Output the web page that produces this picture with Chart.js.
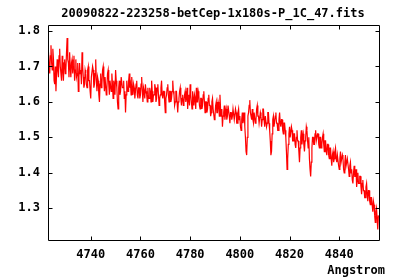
<!DOCTYPE html>
<html>
<head>
<meta charset="utf-8">
<script src="https://cdn.jsdelivr.net/npm/chart.js@4"></script>
<style>
html,body{margin:0;padding:0;background:#fff;}
#wrap{width:400px;height:280px;}
</style>
</head>
<body>
<div id="wrap"><canvas id="c" width="400" height="280"></canvas></div>
<script>
const chartTitle = "20090822-223258-betCep-1x180s-P_1C_47.fits";
const xAxisLabel = "Angstrom";
const waveStart = 4723.0;   // first wavelength (Angstrom)
const waveStep = 0.25;      // dispersion (Angstrom per sample)
const flux = [
  1.74,1.70,1.68,1.73,1.76,1.71,1.69,1.75,1.72,1.66,1.65,1.70,1.63,1.68,1.72,1.69,1.67,1.73,1.75,1.70,
  1.70,1.66,1.73,1.69,1.66,1.71,1.72,1.68,1.69,1.74,1.78,1.72,1.71,1.67,1.74,1.70,1.67,1.71,1.72,1.68,
  1.70,1.73,1.66,1.69,1.72,1.67,1.68,1.71,1.63,1.67,1.71,1.68,1.69,1.65,1.74,1.70,1.67,1.64,1.65,1.69,
  1.68,1.65,1.64,1.69,1.70,1.66,1.66,1.63,1.61,1.67,1.67,1.70,1.69,1.64,1.65,1.68,1.72,1.66,1.63,1.67,
  1.66,1.62,1.60,1.65,1.68,1.64,1.65,1.69,1.70,1.66,1.63,1.67,1.67,1.62,1.64,1.68,1.69,1.65,1.62,1.66,
  1.66,1.63,1.68,1.65,1.61,1.66,1.65,1.62,1.69,1.66,1.64,1.60,1.58,1.64,1.66,1.62,1.63,1.67,1.67,1.64,
  1.64,1.66,1.61,1.63,1.57,1.62,1.66,1.64,1.63,1.66,1.68,1.64,1.65,1.62,1.67,1.64,1.62,1.65,1.64,1.61,
  1.63,1.65,1.66,1.62,1.61,1.64,1.64,1.61,1.62,1.65,1.67,1.63,1.60,1.64,1.63,1.61,1.65,1.63,1.62,1.60,
  1.64,1.61,1.61,1.64,1.63,1.60,1.66,1.63,1.60,1.62,1.62,1.65,1.64,1.60,1.61,1.64,1.65,1.62,1.59,1.61,
  1.62,1.64,1.66,1.62,1.61,1.63,1.63,1.60,1.57,1.61,1.62,1.64,1.65,1.62,1.60,1.63,1.63,1.60,1.61,1.63,
  1.66,1.63,1.62,1.59,1.60,1.63,1.63,1.60,1.57,1.60,1.61,1.63,1.64,1.61,1.59,1.61,1.62,1.59,1.60,1.62,
  1.63,1.60,1.61,1.64,1.58,1.61,1.62,1.59,1.65,1.62,1.60,1.58,1.63,1.61,1.59,1.62,1.61,1.58,1.64,1.60,
  1.60,1.63,1.62,1.59,1.58,1.61,1.61,1.58,1.59,1.62,1.63,1.60,1.57,1.60,1.60,1.57,1.58,1.61,1.62,1.59,
  1.59,1.56,1.57,1.60,1.61,1.58,1.58,1.55,1.56,1.59,1.60,1.57,1.57,1.60,1.59,1.56,1.62,1.58,1.56,1.58,
  1.53,1.56,1.57,1.59,1.55,1.57,1.58,1.55,1.56,1.59,1.59,1.56,1.54,1.57,1.57,1.55,1.56,1.58,1.58,1.55,
  1.55,1.58,1.57,1.54,1.54,1.57,1.58,1.55,1.56,1.53,1.52,1.55,1.57,1.54,1.55,1.57,1.53,1.50,1.46,1.45,
  1.50,1.56,1.57,1.59,1.605,1.57,1.56,1.55,1.58,1.55,1.54,1.57,1.57,1.54,1.55,1.58,1.59,1.56,1.56,1.54,
  1.54,1.57,1.56,1.53,1.55,1.58,1.58,1.55,1.53,1.56,1.56,1.53,1.54,1.57,1.57,1.54,1.52,1.49,1.45,1.46,
  1.51,1.55,1.56,1.53,1.53,1.56,1.57,1.54,1.54,1.52,1.52,1.55,1.57,1.54,1.53,1.55,1.55,1.52,1.51,1.54,
  1.54,1.52,1.50,1.46,1.41,1.44,1.48,1.51,1.53,1.50,1.50,1.53,1.52,1.49,1.49,1.51,1.51,1.48,1.47,1.50,
  1.52,1.49,1.49,1.46,1.43,1.47,1.50,1.52,1.48,1.50,1.51,1.48,1.46,1.49,1.50,1.53,1.52,1.49,1.47,1.50,
  1.44,1.41,1.39,1.43,1.47,1.50,1.50,1.48,1.48,1.51,1.52,1.49,1.49,1.51,1.51,1.48,1.47,1.50,1.50,1.47,
  1.48,1.50,1.51,1.48,1.46,1.49,1.49,1.46,1.45,1.48,1.48,1.45,1.44,1.47,1.47,1.44,1.42,1.45,1.46,1.43,
  1.44,1.46,1.47,1.44,1.43,1.45,1.45,1.42,1.41,1.44,1.46,1.43,1.43,1.45,1.44,1.41,1.40,1.43,1.45,1.42,
  1.42,1.44,1.44,1.41,1.39,1.42,1.43,1.40,1.41,1.38,1.37,1.40,1.42,1.39,1.39,1.41,1.36,1.38,1.40,1.37,
  1.37,1.39,1.39,1.36,1.34,1.37,1.38,1.35,1.35,1.33,1.33,1.36,1.37,1.34,1.32,1.35,1.35,1.32,1.31,1.33,
  1.33,1.31,1.29,1.32,1.31,1.28,1.26,1.29,1.30,1.27,1.24,1.28
];
const xTickValues = [4740,4760,4780,4800,4820,4840];
const yTickValues = [1.3,1.4,1.5,1.6,1.7,1.8];
const xRange = [4722.8, 4856.0];
const yRange = [1.2105, 1.817];

const points = flux.map((v,i)=>({x: waveStart + i*waveStep, y: v}));
const FONT = "'DejaVu Sans Mono', monospace";

const framePlugin = {
  id: 'frame',
  afterDraw(chart){
    const ctx = chart.ctx, a = chart.chartArea;
    const xs = chart.scales.x, ys = chart.scales.y;
    ctx.save();
    ctx.strokeStyle = '#000';
    ctx.lineWidth = 1;
    ctx.beginPath();
    const L = Math.round(a.left)+0.5, R = Math.round(a.right)+0.5, T = Math.round(a.top)+0.5, B = Math.round(a.bottom)+0.5;
    ctx.rect(L, T, R-L, B-T);
    xTickValues.forEach(v=>{
      const px = Math.round(xs.getPixelForValue(v))+0.5;
      ctx.moveTo(px,B); ctx.lineTo(px,B-4);
      ctx.moveTo(px,T); ctx.lineTo(px,T+4);
    });
    yTickValues.forEach(v=>{
      const py = Math.round(ys.getPixelForValue(v))+0.5;
      ctx.moveTo(L,py); ctx.lineTo(L+4,py);
      ctx.moveTo(R,py); ctx.lineTo(R-4,py);
    });
    ctx.stroke();
    ctx.fillStyle = '#000';
    ctx.font = 'bold 12px ' + FONT;
    ctx.textAlign = 'center';
    ctx.textBaseline = 'middle';
    ctx.fillText(chartTitle, 213, 14);
    ctx.textAlign = 'right';
    ctx.fillText(xAxisLabel, 385, 271);
    ctx.restore();
  }
};

new Chart(document.getElementById('c'), {
  type: 'line',
  data: { datasets: [{ data: points, borderColor: '#ff0000', borderWidth: 1.2, pointRadius: 0, tension: 0, fill: false }] },
  options: {
    responsive: false,
    animation: false,
    layout: { padding: { top: 25, right: 21, left: 0, bottom: 0 } },
    plugins: { legend: { display: false }, tooltip: { enabled: false } },
    scales: {
      x: {
        type: 'linear', min: xRange[0], max: xRange[1],
        afterBuildTicks(s){ s.ticks = xTickValues.map(v=>({value:v})); },
        afterFit(s){ s.height = 40; },
        grid: { display: false, drawTicks: false },
        border: { display: false },
        ticks: { color: '#000', font: { family: FONT, size: 12, weight: 'bold' }, padding: 8, maxRotation: 0, callback: v => String(v) }
      },
      y: {
        type: 'linear', min: yRange[0], max: yRange[1],
        afterBuildTicks(s){ s.ticks = yTickValues.map(v=>({value:v})); },
        afterFit(s){ s.width = 48; },
        grid: { display: false, drawTicks: false },
        border: { display: false },
        ticks: { color: '#000', font: { family: FONT, size: 12, weight: 'bold' }, padding: 8, callback: v => v.toFixed(1) }
      }
    }
  },
  plugins: [framePlugin]
});
</script>
</body>
</html>
